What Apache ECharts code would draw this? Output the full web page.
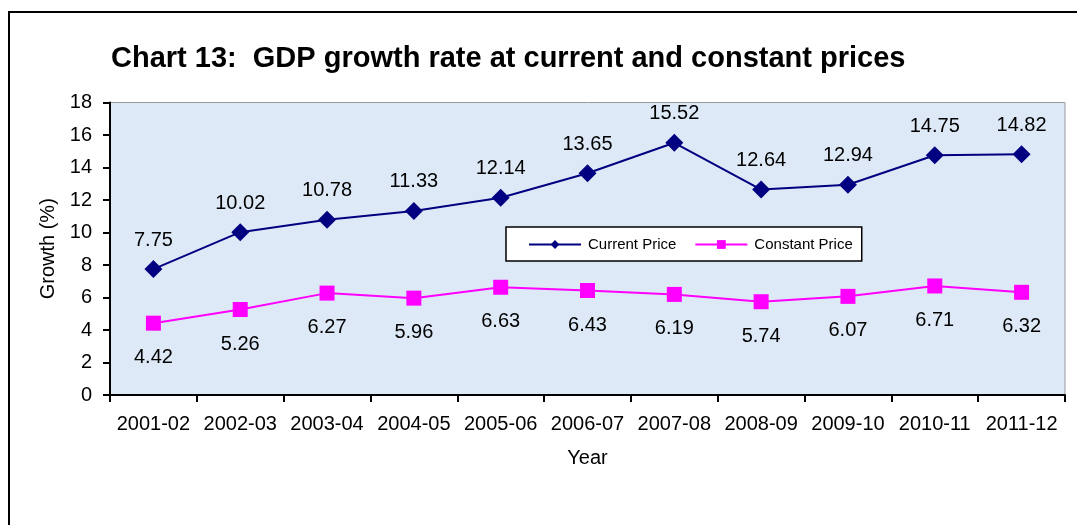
<!DOCTYPE html>
<html>
<head>
<meta charset="utf-8">
<script src="https://cdn.jsdelivr.net/npm/echarts@6/dist/echarts.min.js"></script>
<style>
  html, body { margin: 0; padding: 0; background: #ffffff; }
  #chart { width: 1077px; height: 525px; }
</style>
</head>
<body>
<div id="chart"></div>
<script>
// Fiscal years on the category axis
const years = ['2001-02', '2002-03', '2003-04', '2004-05', '2005-06', '2006-07',
  '2007-08', '2008-09', '2009-10', '2010-11', '2011-12'];
// GDP growth rate (%) at current prices
const currentPrice = [7.75, 10.02, 10.78, 11.33, 12.14, 13.65, 15.52, 12.64, 12.94, 14.75, 14.82];
// GDP growth rate (%) at constant prices
const constantPrice = [4.42, 5.26, 6.27, 5.96, 6.63, 6.43, 6.19, 5.74, 6.07, 6.71, 6.32];

const FONT = '"Liberation Sans", Arial, sans-serif';

const chart = echarts.init(document.getElementById('chart'), null, { renderer: 'canvas' });

chart.setOption({
  backgroundColor: '#ffffff',
  animation: false,
  textStyle: { fontFamily: FONT },
  graphic: [
    {
      type: 'rect',
      shape: { x: 9, y: 12, width: 1100, height: 560 },
      style: { fill: null, stroke: '#000000', lineWidth: 2 },
      silent: true
    }
  ],
  title: {
    text: 'Chart 13:  GDP growth rate at current and constant prices',
    left: 106,
    top: 39,
    textStyle: { fontFamily: FONT, fontSize: 29, fontWeight: 'bold', color: '#000000' }
  },
  legend: {
    left: 506,
    top: 227,
    itemGap: 18,
    padding: [10, 9, 9, 22],
    backgroundColor: '#ffffff',
    borderColor: '#000000',
    borderWidth: 1.5,
    itemWidth: 52,
    itemHeight: 11,
    textStyle: { fontFamily: FONT, fontSize: 15, color: '#000000', padding: [0, 0, 0, 2] },
    data: ['Current Price', 'Constant Price']
  },
  grid: {
    left: 110,
    top: 102.5,
    right: 12,
    bottom: 130,
    show: true,
    backgroundColor: '#dee9f7',
    borderColor: '#9a9a9a',
    borderWidth: 1
  },
  xAxis: {
    type: 'category',
    data: years,
    boundaryGap: true,
    name: 'Year',
    nameLocation: 'middle',
    nameGap: 53,
    nameTextStyle: { fontFamily: FONT, fontSize: 20, color: '#000000' },
    axisLine: { lineStyle: { color: '#000000', width: 2 } },
    axisTick: { show: true, length: 7, alignWithLabel: false, lineStyle: { color: '#000000', width: 2 } },
    axisLabel: { fontFamily: FONT, fontSize: 20, color: '#000000', margin: 19, interval: 0 },
    splitLine: { show: false }
  },
  yAxis: {
    type: 'value',
    min: 0,
    max: 18,
    interval: 2,
    name: 'Growth (%)',
    nameLocation: 'middle',
    nameGap: 42,
    nameRotate: 90,
    nameTextStyle: { fontFamily: FONT, fontSize: 20, color: '#000000' },
    axisLine: { show: true, lineStyle: { color: '#000000', width: 2 } },
    axisTick: { show: true, length: 7, lineStyle: { color: '#000000', width: 2 } },
    axisLabel: { fontFamily: FONT, fontSize: 20, color: '#000000', margin: 18 },
    splitLine: { show: false }
  },
  series: [
    {
      name: 'Current Price',
      type: 'line',
      data: currentPrice,
      symbol: 'diamond',
      symbolSize: 18,
      itemStyle: { color: '#000080' },
      lineStyle: { color: '#000080', width: 2 },
      label: {
        show: true,
        position: 'top',
        distance: 10,
        fontFamily: FONT,
        fontSize: 20,
        color: '#000000',
        formatter: p => p.value.toFixed(2)
      }
    },
    {
      name: 'Constant Price',
      type: 'line',
      data: constantPrice,
      symbol: 'rect',
      symbolSize: 15,
      itemStyle: { color: '#ff00ff' },
      lineStyle: { color: '#ff00ff', width: 2 },
      label: {
        show: true,
        position: 'bottom',
        distance: 17,
        fontFamily: FONT,
        fontSize: 20,
        color: '#000000',
        formatter: p => p.value.toFixed(2)
      }
    }
  ]
});
</script>
</body>
</html>
